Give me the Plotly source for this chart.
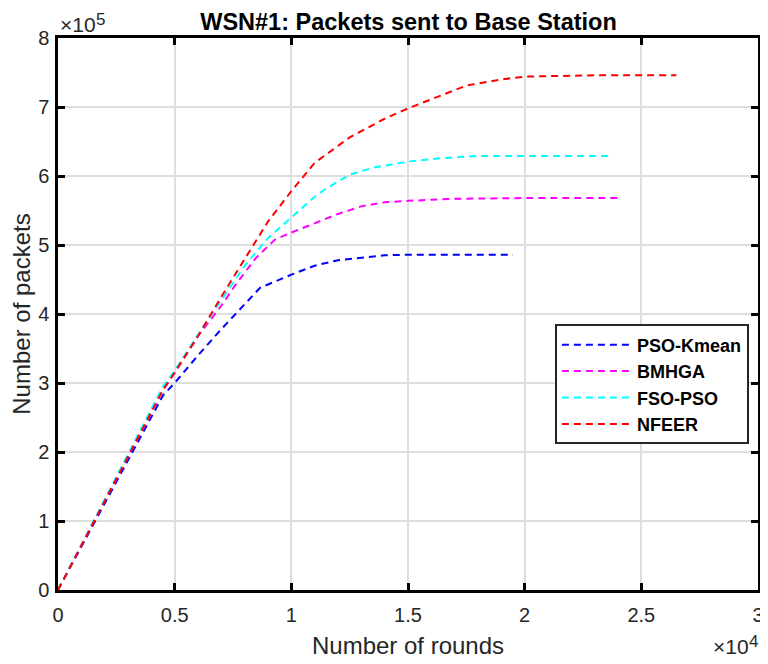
import plotly.graph_objects as go

# rounds / packets (x in rounds, y in packets)
pso_kmean_x = [0, 4500, 5000, 6000, 7000, 8660, 10000, 11000, 12000, 13000, 14000, 15000, 17000, 19500]
pso_kmean_y = [0, 282000, 300000, 340000, 378000, 438000, 457000, 470000, 478000, 482000, 485000, 486000, 486000, 486000]

bmhga_x = [0, 4500, 5000, 6000, 7000, 7600, 8500, 9300, 10000, 11000, 12000, 13000, 14000, 15000, 17000, 20000, 24000]
bmhga_y = [0, 290000, 315000, 368000, 412000, 442000, 482000, 508000, 518000, 531000, 545000, 556000, 562000, 564000, 567000, 568000, 568000]

fso_pso_x = [0, 4500, 5000, 6000, 7000, 8000, 9000, 10000, 11000, 11500, 12500, 13500, 15000, 16500, 18000, 20000, 23700]
fso_pso_y = [0, 295000, 318000, 370000, 420000, 470000, 510000, 540000, 570000, 582000, 602000, 612000, 621000, 626000, 629000, 629000, 629000]

nfeer_x = [0, 4500, 5000, 6000, 7000, 8000, 9000, 10000, 11000, 12500, 14000, 15000, 16500, 17500, 19000, 20000, 23000, 26500]
nfeer_y = [0, 290000, 315000, 368000, 425000, 480000, 534000, 578000, 619000, 656000, 683000, 698000, 718000, 731000, 740000, 744000, 746000, 746000]

x_ticks = [0, 5000, 10000, 15000, 20000, 25000, 30000]
x_tick_labels = ['0', '0.5', '1', '1.5', '2', '2.5', '3']
y_ticks = [0, 100000, 200000, 300000, 400000, 500000, 600000, 700000, 800000]
y_tick_labels = ['0', '1', '2', '3', '4', '5', '6', '7', '8']

series = [
    ('PSO-Kmean', pso_kmean_x, pso_kmean_y, '#0000FF'),
    ('BMHGA', bmhga_x, bmhga_y, '#FF00FF'),
    ('FSO-PSO', fso_pso_x, fso_pso_y, '#00FFFF'),
    ('NFEER', nfeer_x, nfeer_y, '#FF0000'),
]

font = 'Liberation Sans, Arial, sans-serif'
ink = '#262626'

fig = go.Figure()
for name, xs, ys, col in series:
    fig.add_trace(go.Scatter(x=xs, y=ys, mode='lines', name=name,
                             line=dict(color=col, width=2, dash='7px,5px')))

axis_common = dict(showline=True, linecolor='black', linewidth=2.5, mirror='ticks',
                   ticks='inside', ticklen=7, tickwidth=2.5, tickcolor='black',
                   showgrid=True, gridcolor='#dedede', gridwidth=1.5, zeroline=False,
                   automargin=False,
                   tickfont=dict(family=font, size=20, color=ink))

# the page adds an 8px body margin, so the figure is 8px smaller than the window
fig.update_layout(
    width=760, height=656,
    margin=dict(l=50, r=10, t=30, b=74),
    paper_bgcolor='white', plot_bgcolor='white',
    title=dict(text='<b>WSN#1: Packets sent to Base Station</b>', x=0.527, xanchor='center',
               y=0.992, yanchor='top', font=dict(family=font, size=23.5, color='black')),
    xaxis=dict(range=[0, 30000], tickvals=x_ticks, ticktext=x_tick_labels,
               ticklabelstandoff=5,
               title=dict(text='Number of rounds', font=dict(family=font, size=24, color=ink), standoff=13),
               **axis_common),
    yaxis=dict(range=[0, 800000], tickvals=y_ticks, ticktext=y_tick_labels,
               ticklabelstandoff=2,
               title=dict(text='Number of packets', font=dict(family=font, size=24, color=ink), standoff=6),
               **axis_common),
    legend=dict(x=0.987, y=0.481, xanchor='right', yanchor='top',
                bordercolor=ink, borderwidth=2, bgcolor='white',
                font=dict(family=font, size=18, color='black', weight='bold'),
                itemwidth=70, tracegroupgap=0),
    showlegend=True,
)

# exponent labels, MATLAB style
exp_font = dict(family=font, size=21, color=ink)
sup_font = dict(family=font, size=17, color=ink)
fig.add_annotation(text='×10', xref='paper', yref='paper', x=0.0, y=1.024,
                   xanchor='left', yanchor='middle', showarrow=False, font=exp_font)
fig.add_annotation(text='5', xref='paper', yref='paper', x=0.051, y=1.033,
                   xanchor='left', yanchor='middle', showarrow=False, font=sup_font)
fig.add_annotation(text='×10', xref='paper', yref='paper', x=0.99, y=-0.103,
                   xanchor='right', yanchor='middle', showarrow=False, font=exp_font)
fig.add_annotation(text='4', xref='paper', yref='paper', x=0.984, y=-0.093,
                   xanchor='left', yanchor='middle', showarrow=False, font=sup_font)

fig.write_html("out.html")
